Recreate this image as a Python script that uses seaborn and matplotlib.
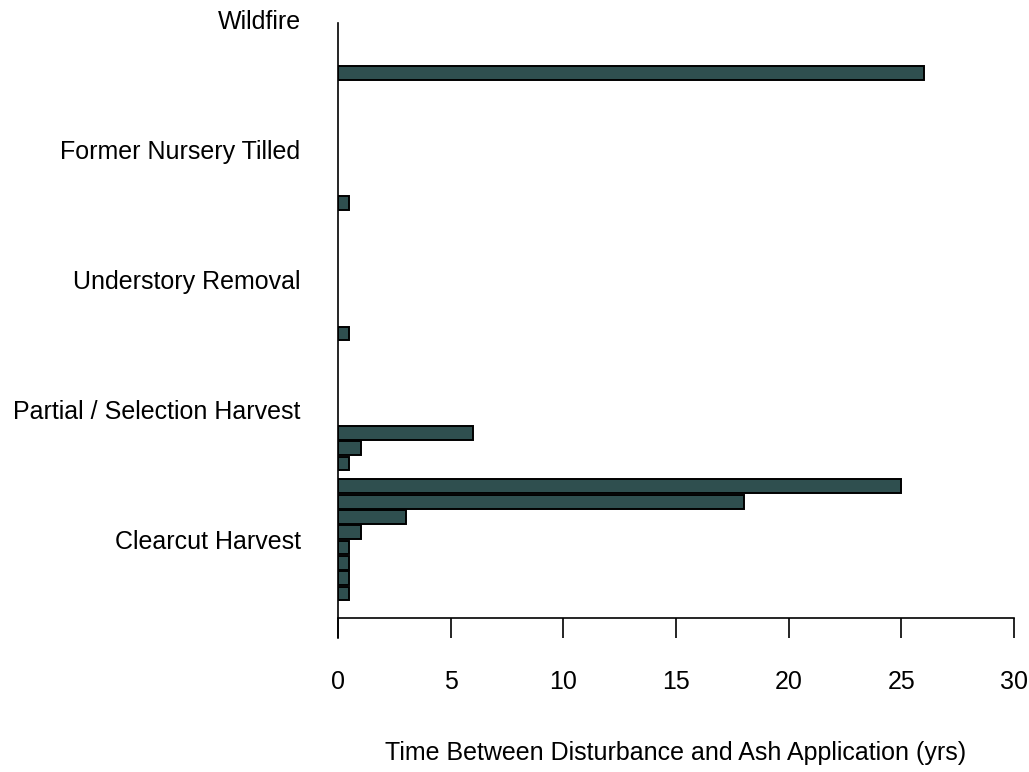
import matplotlib
matplotlib.use('Agg')
import matplotlib.pyplot as plt
import numpy as np
import pandas as pd
import seaborn as sns

sns.set_style('white')
plt.rcParams['font.family'] = ['Liberation Sans', 'DejaVu Sans']
plt.rcParams['text.color'] = 'black'
plt.rcParams['xtick.color'] = 'black'
plt.rcParams['ytick.color'] = 'black'
plt.rcParams['axes.labelcolor'] = 'black'

# Disturbance categories (bottom to top) and the years for each site in them
categories = ["Clearcut Harvest", "Partial / Selection Harvest", "Understory Removal",
              "Former Nursery Tilled", "Wildfire"]
clearcut_yrs = [0.5, 0.5, 0.5, 0.5, 1, 3, 18, 25]
partial_yrs = [0.5, 1, 6]
understory_yrs = [0.5]
nursery_yrs = [0.5]
wildfire_yrs = [26]
x_ticks = [0, 5, 10, 15, 20, 25, 30]

groups = [clearcut_yrs, partial_yrs, understory_yrs, nursery_yrs, wildfire_yrs]

# each group gets a band of 8.5 bar slots, bars stacked from the band bottom
band = 8.5
rows = []
for k, (cat, vals) in enumerate(zip(categories, groups)):
    for i, v in enumerate(vals):
        rows.append({'category': cat, 'years': v, 'pos': band * k + i})
df = pd.DataFrame(rows)

fig = plt.figure(figsize=(10.29, 7.72), dpi=100)
ax = fig.add_axes([0.3285, 0.1736, 0.657, 0.8107])

sns.barplot(data=df, x='years', y='pos', orient='h', native_scale=True,
            width=0.9, color='#2F4F4F', saturation=1, edgecolor='black',
            linewidth=1.4, errorbar=None, ax=ax)

ax.set_xlim(0, 30)
ax.set_ylim(-2.91, 38.0)

# R-style axes: detached bottom axis, left line without ticks
ax.spines['top'].set_visible(False)
ax.spines['right'].set_visible(False)
ax.spines['bottom'].set_position(('data', -1.6))
ax.spines['left'].set_bounds(-2.91, 37.29)
for s in ['left', 'bottom']:
    ax.spines[s].set_linewidth(1.2)
    ax.spines[s].set_color('black')

ax.set_xticks(x_ticks)
ax.set_xticklabels([str(t) for t in x_ticks])
ax.set_yticks([band * k + 3.5 for k in range(len(categories))])
ax.set_yticklabels(categories)
ax.tick_params(axis='x', direction='out', length=14.5, width=1.2, pad=23,
               labelsize=18, bottom=True, colors='black')
ax.tick_params(axis='y', length=0, pad=27, labelsize=18, left=True,
               labelcolor='black')

ax.set_ylabel('')
ax.set_xlabel('Time Between Disturbance and Ash Application (yrs)',
              fontsize=18, labelpad=34, color='black')

fig.savefig('out.png', dpi=100)
